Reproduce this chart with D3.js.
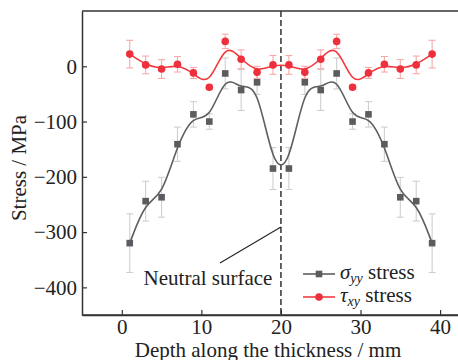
<!DOCTYPE html>
<html>
<head>
<meta charset="utf-8">
<script src="https://cdn.jsdelivr.net/npm/d3@7"></script>
<style>
  html, body { margin: 0; padding: 0; background: #fff; }
  svg { display: block; }
  svg text { font-family: "Liberation Serif", "Times New Roman", serif; }
</style>
</head>
<body>
<svg id="chart" width="458" height="360"></svg>
<script>
// Measurement depths through the plate thickness (mm)
const depths = [1, 3, 5, 7, 9, 11, 13, 15, 17, 19, 21, 23, 25, 27, 29, 31, 33, 35, 37, 39];
// Normal stress sigma_yy (MPa) and its scatter
const sigmaYY = [-320, -244, -237, -141, -87, -100, -13, -43, -29, -185, -185, -29, -43, -13, -100, -87, -141, -237, -244, -320];
const sigmaErr = [53, 36, 36, 31, 23, 14, 28, 37, 22, 38, 38, 22, 37, 28, 14, 23, 31, 36, 36, 53];
// Shear stress tau_xy (MPa) and its scatter
const tauXY = [22, 2.5, -5, 3.6, -12, -38, 45, 12.6, -11, 2.5, 2.5, -11, 12.6, 45, -38, -12, 3.6, -5, 2.5, 22];
const tauErr = [25, 16, 17, 14, 10, 4, 13, 17, 11, 17, 17, 11, 17, 13, 4, 10, 14, 17, 16, 25];
// Axis ticks
const xTicks = [0, 10, 20, 30, 40];
const yTicks = [0, -100, -200, -300, -400];
const neutralDepth = 20;

const svg = d3.select("#chart");
const padL = 82, padT = 11, padB = 315, padR = 458;
const serif = "Liberation Serif, Times New Roman, serif";

const x = d3.scaleLinear().domain([-5, 43]).range([padL, padL + 48 * 7.9575]);
const y = d3.scaleLinear().domain([-450, 100]).range([padB, padT]);

const grey = "#5b5c60", greyLine = "#5e5e5e", greyErr = "#cfcfcf";
const red = "#ee2f3c", redLine = "#f03a3f", redErr = "#f6a9a9";

const fmt = d => d < 0 ? "\u2212" + Math.abs(d) : String(d);

// Axes with inward ticks
const xAxis = svg.append("g").attr("transform", `translate(0,${padB})`)
  .call(d3.axisBottom(x).tickValues(xTicks).tickSizeInner(-5).tickSizeOuter(0).tickPadding(4).tickFormat(fmt));
const yAxis = svg.append("g").attr("transform", `translate(${padL},0)`)
  .call(d3.axisLeft(y).tickValues(yTicks).tickSizeInner(-5).tickSizeOuter(0).tickPadding(5).tickFormat(fmt));
[xAxis, yAxis].forEach(g => {
  g.attr("font-family", serif).attr("font-size", 21);
  g.selectAll("text").attr("fill", "#222");
  g.selectAll("line").attr("stroke", "#333").attr("stroke-width", 1.2);
  g.select(".domain").attr("stroke", "#333").attr("stroke-width", 1.5);
});
// Extend bottom axis line to the right edge and draw top frame line
svg.append("line").attr("x1", padL).attr("x2", padR).attr("y1", padB).attr("y2", padB)
  .attr("stroke", "#333").attr("stroke-width", 1.5);
svg.append("line").attr("x1", padL).attr("x2", padR).attr("y1", padT).attr("y2", padT)
  .attr("stroke", "#333").attr("stroke-width", 1.5);

// Axis titles
svg.append("text").attr("x", 268).attr("y", 357).attr("text-anchor", "middle")
  .attr("font-family", serif).attr("font-size", 21).attr("fill", "#222").text("Depth along the thickness / mm");
svg.append("text").attr("transform", "translate(26,168) rotate(-90)").attr("text-anchor", "middle")
  .attr("font-family", serif).attr("font-size", 21).attr("fill", "#222").text("Stress / MPa");

const plot = svg.append("g");

// Neutral surface marker
plot.append("line").attr("x1", x(neutralDepth)).attr("x2", x(neutralDepth))
  .attr("y1", padT).attr("y2", padB)
  .attr("stroke", "#333").attr("stroke-width", 1.5).attr("stroke-dasharray", "6,3");

function errorBars(vals, errs, color) {
  const g = plot.append("g").attr("stroke", color).attr("stroke-width", 1.1).attr("fill", "none");
  depths.forEach((d, i) => {
    const cx = x(d), y1 = y(vals[i] + errs[i]), y2 = y(vals[i] - errs[i]);
    g.append("line").attr("x1", cx).attr("x2", cx).attr("y1", y1).attr("y2", y2);
    g.append("line").attr("x1", cx - 3.5).attr("x2", cx + 3.5).attr("y1", y1).attr("y2", y1);
    g.append("line").attr("x1", cx - 3.5).attr("x2", cx + 3.5).attr("y1", y2).attr("y2", y2);
  });
}
errorBars(sigmaYY, sigmaErr, greyErr);
errorBars(tauXY, tauErr, redErr);

const line = d3.line().x(p => x(p[0])).y(p => y(p[1])).curve(d3.curveBasis);
plot.append("path").datum(depths.map((d, i) => [d, sigmaYY[i]]))
  .attr("d", line).attr("fill", "none").attr("stroke", greyLine).attr("stroke-width", 1.6);
plot.append("path").datum(depths.map((d, i) => [d, tauXY[i]]))
  .attr("d", line).attr("fill", "none").attr("stroke", redLine).attr("stroke-width", 1.6);

// Markers
plot.selectAll("rect.sq").data(depths).join("rect").attr("class", "sq")
  .attr("x", (d) => x(d) - 3.3).attr("y", (d, i) => y(sigmaYY[i]) - 3.3)
  .attr("width", 6.6).attr("height", 6.6).attr("fill", grey);
plot.selectAll("circle.dot").data(depths).join("circle").attr("class", "dot")
  .attr("cx", d => x(d)).attr("cy", (d, i) => y(tauXY[i])).attr("r", 3.8).attr("fill", red);

// Annotation
svg.append("line").attr("x1", 220).attr("y1", 263).attr("x2", x(neutralDepth)).attr("y2", 227)
  .attr("stroke", "#222").attr("stroke-width", 1.1);
svg.append("text").attr("x", 208).attr("y", 285).attr("text-anchor", "middle")
  .attr("font-family", serif).attr("font-size", 21).attr("fill", "#222").text("Neutral surface");

// Legend
const legend = svg.append("g");
const rows = [
  { sym: "\u03c3", sub: "yy", color: greyLine, mark: "square", yy: 274 },
  { sym: "\u03c4", sub: "xy", color: redLine, mark: "circle", yy: 297 }
];
rows.forEach(r => {
  legend.append("line").attr("x1", 303).attr("x2", 335).attr("y1", r.yy).attr("y2", r.yy)
    .attr("stroke", r.color).attr("stroke-width", 1.6);
  if (r.mark === "square") {
    legend.append("rect").attr("x", 319 - 3.3).attr("y", r.yy - 3.3).attr("width", 6.6).attr("height", 6.6).attr("fill", grey);
  } else {
    legend.append("circle").attr("cx", 319).attr("cy", r.yy).attr("r", 3.8).attr("fill", red);
  }
  const t = legend.append("text").attr("x", 340).attr("y", r.yy + 5)
    .attr("font-family", serif).attr("font-size", 21).attr("fill", "#222");
  t.append("tspan").attr("font-style", "italic").text(r.sym);
  t.append("tspan").attr("font-style", "italic").attr("font-size", 14).attr("dy", 4).text(r.sub);
  t.append("tspan").attr("dy", -4).text(" stress");
});
</script>
</body>
</html>
